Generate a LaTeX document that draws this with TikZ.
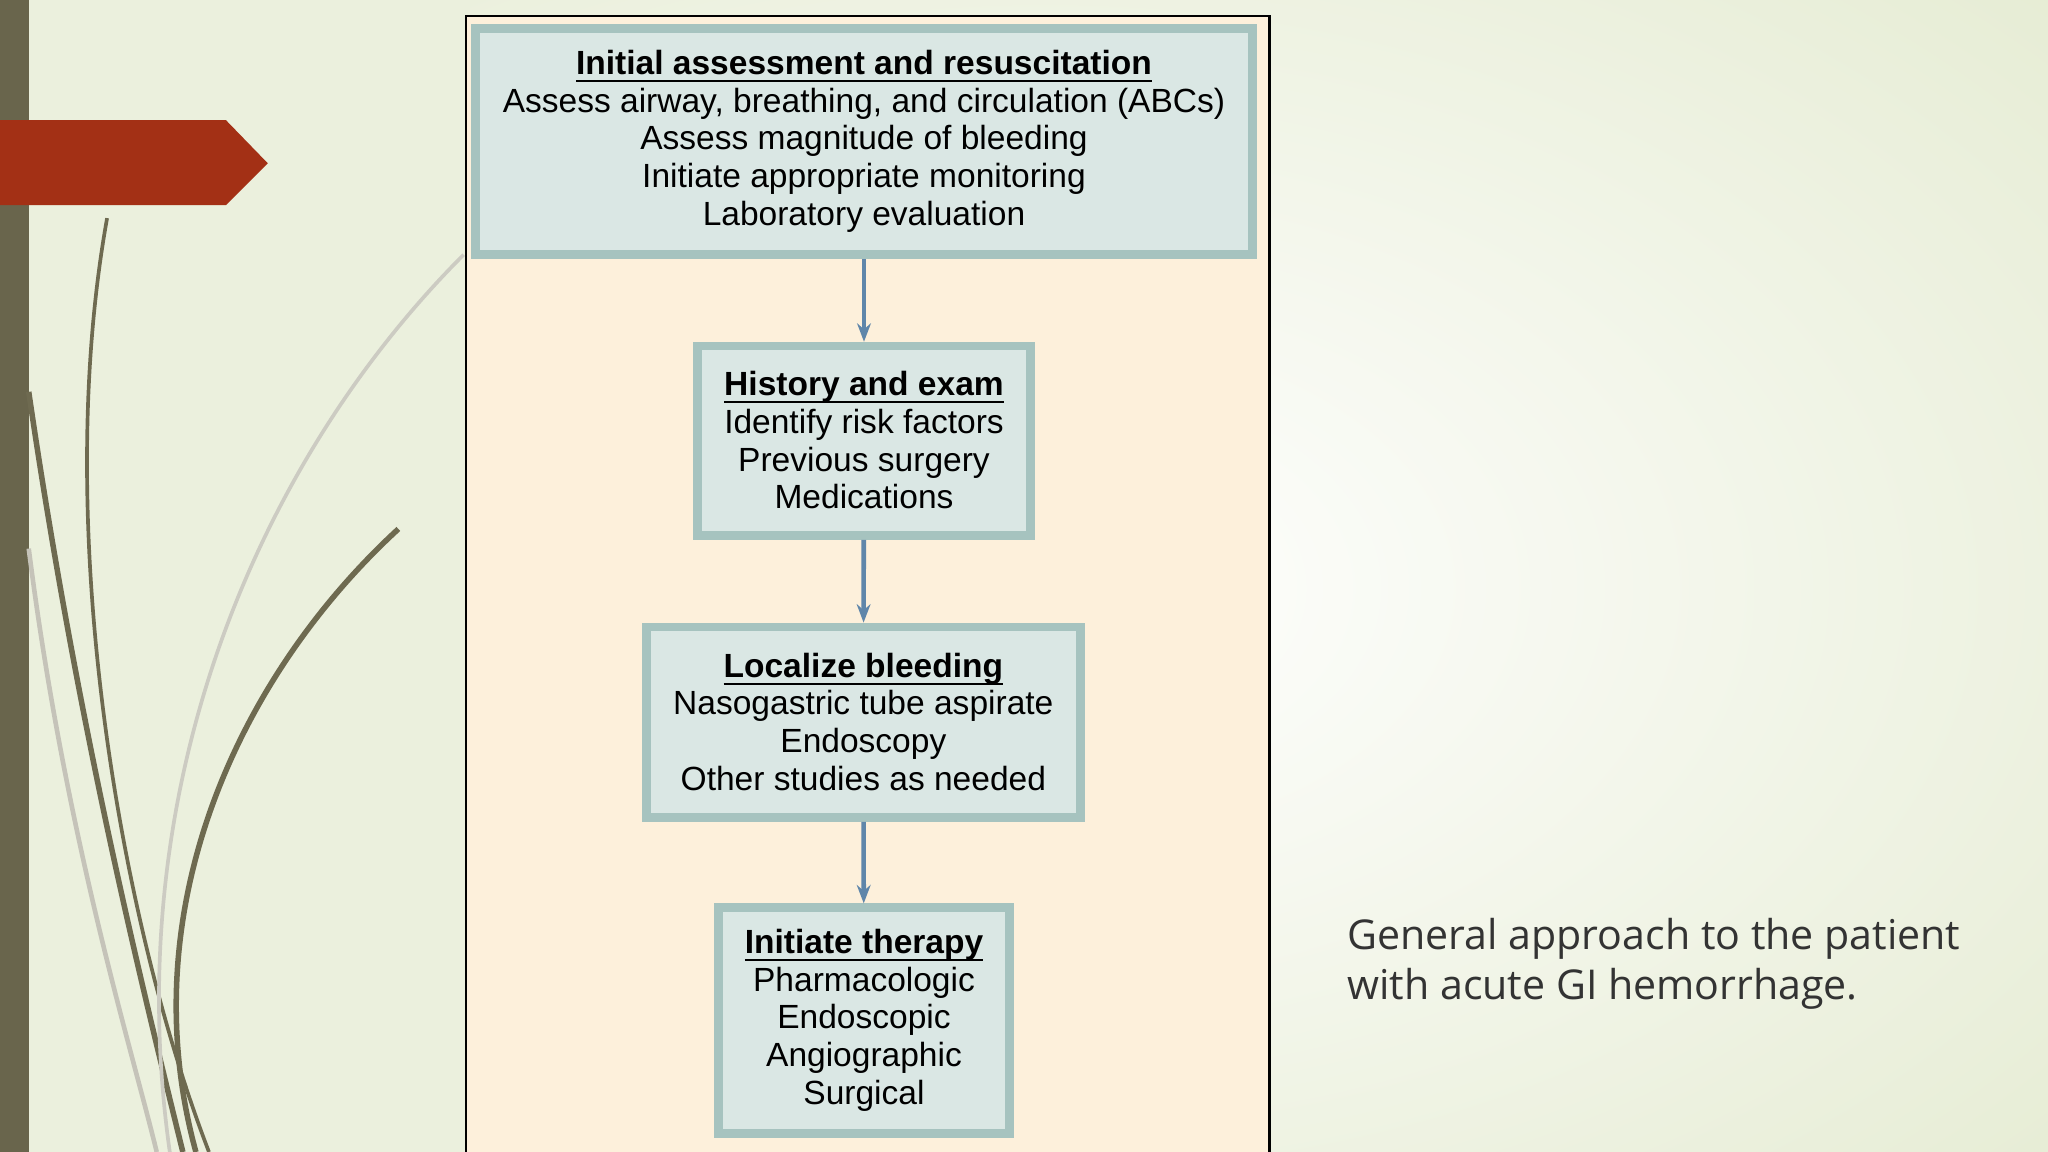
\documentclass[tikz,border=0pt]{standalone}
\usepackage{fontspec}
\usetikzlibrary{arrows.meta}
\setmainfont{Liberation Sans}
\newfontfamily\capfont{Open Sans}
\newcommand{\hdr}[1]{\underline{\smash{\textbf{#1}}\vphantom{A}}}
\begin{document}
\begin{tikzpicture}[x=0.01cm,y=-0.01cm,
  bx/.style={draw=boxedge,line width=1.9pt,fill=boxfill,align=center,inner sep=0pt,font=\fontsize{7.3}{8.2}\selectfont},
  ar/.style={draw=arrowc,line width=1pt,-{Stealth[length=4pt,width=3pt]}},
  curve/.style={draw=curvec,line width=0.8pt}]
\definecolor{boxedge}{HTML}{A6C3BF}
\definecolor{boxfill}{HTML}{DAE7E4}
\definecolor{arrowc}{HTML}{5F86AA}
\definecolor{curvec}{HTML}{6E6A50}
\definecolor{bgl}{HTML}{E3EACF}
\definecolor{peach}{HTML}{FDF0DB}
\definecolor{redarrow}{HTML}{A33015}
\useasboundingbox (0,0) rectangle (1568,882);
\shade[inner color=white,outer color=bgl] (-400,-300) rectangle (2000,1200);
\fill[bgl!70!white] (0,0) rectangle (360,882);
\fill[curvec!95!black] (0,0) rectangle (22,882);
% curves
\draw[curve] (82,167) .. controls (40,400) and (90,700) .. (160,882);
\draw[curve,line width=1.2pt] (22,300) .. controls (60,560) and (110,760) .. (140,882);
\draw[curvec!40,line width=1pt] (22,420) .. controls (50,640) and (100,800) .. (120,882);
\draw[curve,line width=1.2pt] (305,405) .. controls (180,520) and (100,700) .. (150,882);
\draw[curvec!35,line width=0.8pt] (355,195) .. controls (200,350) and (90,600) .. (130,882);
\fill[redarrow] (0,92) -- (173,92) -- (205,125) -- (173,157) -- (0,157) -- cycle;
% panel
\draw[fill=peach,line width=0.5pt] (357,12) rectangle (972,890);
\node[bx,minimum width=595*0.01cm,minimum height=173*0.01cm] (b1) at (661.5,108.5)
 {\hdr{Initial assessment and resuscitation}\\Assess airway, breathing, and circulation (ABCs)\\Assess magnitude of bleeding\\Initiate appropriate monitoring\\Laboratory evaluation};
\node[bx,minimum width=255*0.01cm,minimum height=145*0.01cm] (b2) at (661.5,337.5)
 {\hdr{History and exam}\\Identify risk factors\\Previous surgery\\Medications};
\node[bx,minimum width=332*0.01cm,minimum height=146*0.01cm] (b3) at (661,553)
 {\hdr{Localize bleeding}\\Nasogastric tube aspirate\\Endoscopy\\Other studies as needed};
\node[bx,minimum width=223*0.01cm,minimum height=173*0.01cm] (b4) at (661.5,781.5)
 {\hdr{Initiate therapy}\\Pharmacologic\\Endoscopic\\Angiographic\\Surgical};
\draw[ar] (b1) -- (b2);
\draw[ar] (b2) -- (b3);
\draw[ar] (b3) -- (b4);
\node[anchor=north west,align=left,font=\capfont\fontsize{8.95}{11}\selectfont,text=black!80,inner sep=0pt] (cap) at (1031,702)
 {General approach to the patient\\with acute GI hemorrhage.};
\end{tikzpicture}
\end{document}
